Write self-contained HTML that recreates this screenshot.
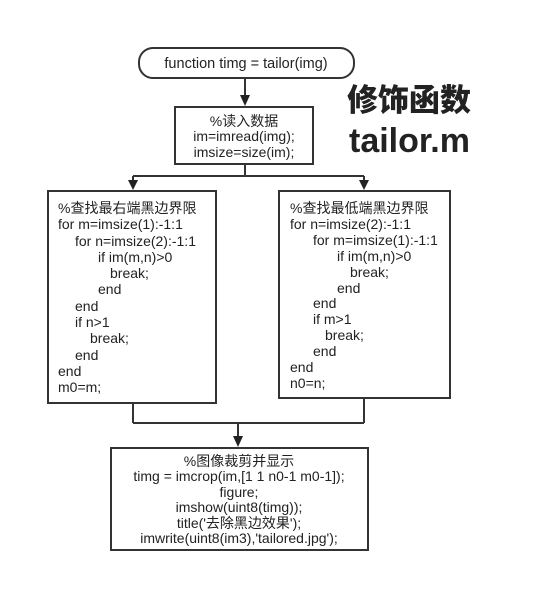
<!DOCTYPE html>
<html><head><meta charset="utf-8"><style>
html,body{margin:0;padding:0;background:#fff;}
svg{display:block;}
text{font-family:"Liberation Sans","Noto Sans CJK SC",sans-serif;font-size:14px;fill:#222;}
.b{font-family:"Liberation Sans","Noto Sans CJK SC",sans-serif;font-weight:bold;font-size:34px;fill:#222;}
.c{font-family:"Noto Sans CJK SC",sans-serif;font-weight:900;font-size:31px;fill:#222;}
</style></head><body>
<svg width="551" height="612" viewBox="0 0 551 612" xmlns="http://www.w3.org/2000/svg">
<g stroke="#333" stroke-width="2" fill="none">
<rect x="139" y="48" width="215" height="30" rx="14"/>
<line x1="245" y1="78" x2="245" y2="97"/>
<rect x="175" y="107" width="138" height="57"/>
<line x1="245" y1="164" x2="245" y2="176"/>
<line x1="133" y1="176" x2="364" y2="176"/>
<line x1="133" y1="176" x2="133" y2="181"/>
<line x1="364" y1="176" x2="364" y2="181"/>
<rect x="48" y="191" width="168" height="212"/>
<rect x="279" y="191" width="171" height="207"/>
<line x1="133" y1="403" x2="133" y2="423"/>
<line x1="364" y1="398" x2="364" y2="423"/>
<line x1="133" y1="423" x2="364" y2="423"/>
<line x1="238" y1="423" x2="238" y2="438"/>
<rect x="111" y="448" width="257" height="102"/>
</g>
<g fill="#222">
<polygon points="240,95 250,95 245,106"/>
<polygon points="128,180 138,180 133,190"/>
<polygon points="359,180 369,180 364,190"/>
<polygon points="233,436 243,436 238,447"/>
</g>
<text x="246" y="68" text-anchor="middle" style="font-size:14.5px">function timg = tailor(img)</text>
<g text-anchor="middle">
<text x="244" y="126">%读入数据</text>
<text x="244" y="141">im=imread(img);</text>
<text x="244" y="157">imsize=size(im);</text>
</g>
<text class="c" x="347" y="111">修饰函数</text>
<text class="b" x="349" y="152">tailor.m</text>
<g>
<text x="58" y="213">%查找最右端黑边界限</text>
<text x="58" y="229">for m=imsize(1):-1:1</text>
<text x="75" y="246">for n=imsize(2):-1:1</text>
<text x="98" y="262">if im(m,n)&gt;0</text>
<text x="110" y="278">break;</text>
<text x="98" y="294">end</text>
<text x="75" y="311">end</text>
<text x="75" y="327">if n&gt;1</text>
<text x="90" y="343">break;</text>
<text x="75" y="360">end</text>
<text x="58" y="376">end</text>
<text x="58" y="392">m0=m;</text>
<text x="290" y="213">%查找最低端黑边界限</text>
<text x="290" y="229">for n=imsize(2):-1:1</text>
<text x="313" y="245">for m=imsize(1):-1:1</text>
<text x="337" y="261">if im(m,n)&gt;0</text>
<text x="350" y="277">break;</text>
<text x="337" y="293">end</text>
<text x="313" y="308">end</text>
<text x="313" y="324">if m&gt;1</text>
<text x="325" y="340">break;</text>
<text x="313" y="356">end</text>
<text x="290" y="372">end</text>
<text x="290" y="388">n0=n;</text>
</g>
<g text-anchor="middle">
<text x="239" y="466">%图像裁剪并显示</text>
<text x="239" y="481">timg = imcrop(im,[1 1 n0-1 m0-1]);</text>
<text x="239" y="497">figure;</text>
<text x="239" y="512">imshow(uint8(timg));</text>
<text x="239" y="528">title('去除黑边效果');</text>
<text x="239" y="543">imwrite(uint8(im3),'tailored.jpg');</text>
</g>
</svg>
</body></html>
